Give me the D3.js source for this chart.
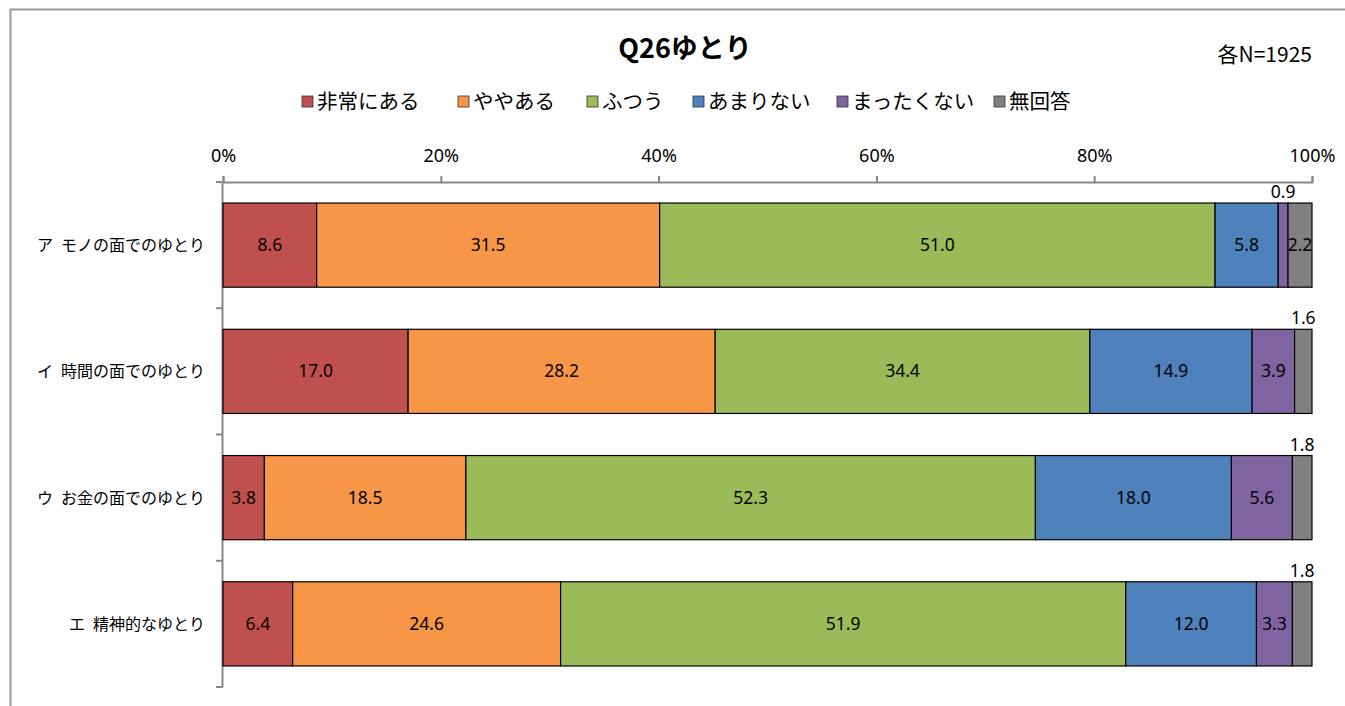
<!DOCTYPE html>
<html><head><meta charset="utf-8">
<script src="https://cdn.jsdelivr.net/npm/d3@7/dist/d3.min.js"></script>
<style>
body{margin:0;background:#fff;}
svg{display:block;font-family:"Noto Sans CJK JP","Noto Sans",sans-serif;}
</style></head><body>
<svg id="chart" width="1345" height="706"></svg>
<script>
const categories = ["ア\u2002モノの面でのゆとり","イ\u2002時間の面でのゆとり","ウ\u2002お金の面でのゆとり","エ\u2002精神的なゆとり"];
const seriesNames = ["非常にある","ややある","ふつう","あまりない","まったくない","無回答"];
const seriesColors = ["#C0504D","#F79646","#9BBB59","#4F81BD","#8064A2","#808080"];
const s1 = [8.6,17.0,3.8,6.4];
const s2 = [31.5,28.2,18.5,24.6];
const s3 = [51.0,34.4,52.3,51.9];
const s4 = [5.8,14.9,18.0,12.0];
const s5 = [0.9,3.9,5.6,3.3];
const s6 = [2.2,1.6,1.8,1.8];
const seriesValues = [s1,s2,s3,s4,s5,s6];
const xTicks = [0,20,40,60,80,100];
// labels drawn above the bar for tiny segments
const aboveLabels = [[4],[5],[5],[5]];

const svg = d3.select("#chart");
const m = {left:223, right:1312, top:182, bottom:687};

// outer frame
svg.append("path").attr("d","M10.5,706 L10.5,9.5 L1345,9.5").attr("fill","none").attr("stroke","#999").attr("stroke-width",2);

const x = d3.scaleLinear().domain([0,100]).range([m.left,m.right]);
const y = d3.scaleBand().domain(categories).range([m.top,m.bottom]).paddingInner(1/3).paddingOuter(1/6);

// title
svg.append("text").attr("x",685).attr("y",58).attr("text-anchor","middle")
  .attr("font-size",27).attr("font-weight","bold").text("Q26ゆとり");
svg.append("text").attr("x",1312).attr("y",62).attr("text-anchor","end")
  .attr("font-size",21).text("各N=1925");

// legend
const legItems = [[302,"非常にある"],[458,"ややある"],[587,"ふつう"],[693,"あまりない"],[837,"まったくない"],[994,"無回答"]];
seriesNames.forEach((n,i)=>{
  const lx = legItems[i][0];
  svg.append("rect").attr("x",lx).attr("y",96).attr("width",11).attr("height",11)
    .attr("fill",seriesColors[i]).attr("stroke","#333").attr("stroke-width",0.8);
  svg.append("text").attr("x",lx+15).attr("y",109).attr("font-size",20.5).text(n);
});

// top axis
const xAxis = d3.axisTop(x).tickValues(xTicks).tickFormat(d=>d+"%").tickSize(6).tickSizeOuter(6);
const gx = svg.append("g").attr("transform",`translate(0,${m.top})`).call(xAxis);
gx.select(".domain").attr("stroke","#888").attr("stroke-width",2);
gx.selectAll(".tick line").attr("stroke","#888").attr("stroke-width",2);
gx.selectAll(".tick text").attr("font-size",18).attr("fill","#000").attr("y",-20)
  .attr("font-family","'Noto Sans','DejaVu Sans',sans-serif");

// left axis
const yAxis = d3.axisLeft(y).tickSize(0).tickSizeOuter(0).tickFormat("");
const gy = svg.append("g").attr("transform",`translate(${m.left-1},0)`).call(yAxis);
gy.select(".domain").attr("stroke","#888").attr("stroke-width",2);
// category boundary ticks
const bounds = d3.range(categories.length+1).map(i=>m.top + i*y.step());
gy.selectAll(".btick").data(bounds).enter().append("line").attr("class","btick")
  .attr("x1",-6).attr("x2",0).attr("y1",d=>d).attr("y2",d=>d).attr("stroke","#888").attr("stroke-width",2);

// category labels
svg.selectAll(".cat").data(categories).enter().append("text")
  .attr("x",205).attr("y",d=>y(d)+y.bandwidth()/2+6).attr("text-anchor","end")
  .attr("font-size",16).text(d=>d);

// bars
categories.forEach((c,ci)=>{
  let cum = 0;
  seriesValues.forEach((vals,si)=>{
    const v = vals[ci];
    const x0 = x(cum), x1 = x(cum+v);
    svg.append("rect").attr("x",x0).attr("y",y(c)).attr("width",x1-x0).attr("height",y.bandwidth())
      .attr("fill",seriesColors[si]).attr("stroke","#000").attr("stroke-width",1.2);
    const cx = (x0+x1)/2;
    const above = aboveLabels[ci].includes(si);
    svg.append("text").attr("x",cx)
      .attr("y", above ? y(c)-5 : y(c)+y.bandwidth()/2+6)
      .attr("text-anchor","middle").attr("font-size",17.5)
      .attr("font-family","'Noto Sans','DejaVu Sans',sans-serif")
      .text(v.toFixed(1));
    cum += v;
  });
});
</script></body></html>
